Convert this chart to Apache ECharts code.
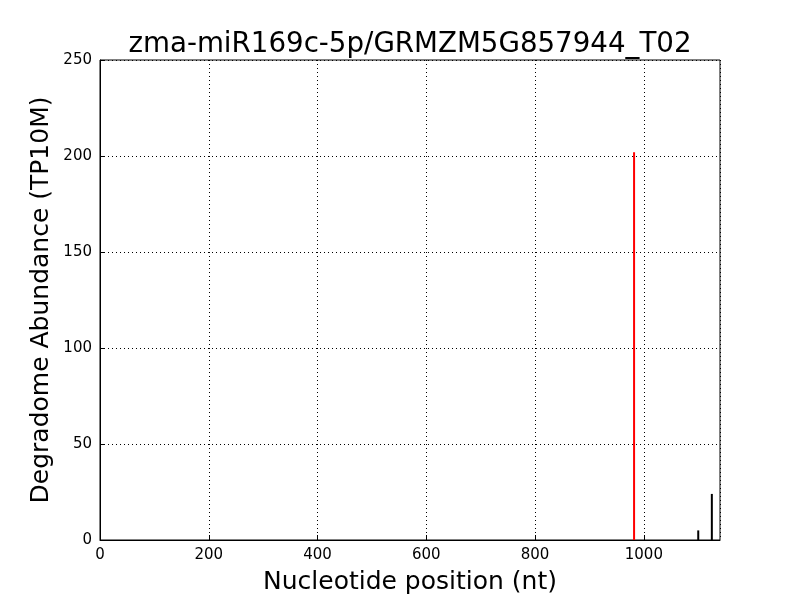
<!DOCTYPE html>
<html><head><meta charset="utf-8">
<script src="https://cdn.jsdelivr.net/npm/echarts@6/dist/echarts.min.js"></script>
<style>html,body{margin:0;padding:0;background:#fff}#c{width:800px;height:600px}</style>
</head><body><div id="c"></div>
<script>
const title = "zma-miR169c-5p/GRMZM5G857944_T02";
const highlightPos = [982];
const highlightVal = [202];
const otherPos = [1100, 1125];
const otherVal = [5, 24];
const xTicksMax = 1140;

const chart = echarts.init(document.getElementById('c'), null, {renderer:'canvas'});
const series = [];
function stem(x, y, color){
  series.push({type:'line', data:[[x,0],[x,y]], symbol:'none', lineStyle:{color:color, width:2}, silent:true, z:3});
}
highlightPos.forEach((x,i)=>stem(x, highlightVal[i], '#ff0000'));
otherPos.forEach((x,i)=>stem(x, otherVal[i], '#000000'));
const F = 'DejaVu Sans';
chart.setOption({
  animation:false,
  title:{text:title, left:405, textAlign:'center', top:26, textStyle:{fontFamily:F, fontSize:27.7, fontWeight:'normal', color:'#000'}},
  grid:{left:100, right:80, top:60, bottom:60, show:true, borderColor:'#000', borderWidth:1, backgroundColor:'transparent', containLabel:false, outerBoundsMode:'none'},
  xAxis:{type:'value', min:0, max:xTicksMax, interval:200,
    name:'Nucleotide position (nt)', nameLocation:'middle', nameGap:30, nameMoveOverlap:false,
    nameTextStyle:{fontFamily:F, fontSize:25, color:'#000'},
    axisLine:{show:true, lineStyle:{color:'#000'}},
    axisTick:{show:true, inside:true, length:5, lineStyle:{color:'#000'}},
    axisLabel:{fontFamily:F, fontSize:15, color:'#000', margin:8, showMaxLabel:false, formatter:v=>String(v)},
    splitLine:{show:true, lineStyle:{color:'#000', type:[1,3], width:1}}},
  yAxis:{type:'value', min:0, max:250, interval:50,
    name:'Degradome Abundance (TP10M)', nameLocation:'middle', nameGap:46, nameMoveOverlap:false,
    nameTextStyle:{fontFamily:F, fontSize:25, color:'#000'},
    axisLine:{show:true, lineStyle:{color:'#000'}},
    axisTick:{show:true, inside:true, length:5, lineStyle:{color:'#000'}},
    axisLabel:{fontFamily:F, fontSize:15, color:'#000', margin:8, formatter:v=>String(v)},
    splitLine:{show:true, lineStyle:{color:'#000', type:[1,3], width:1}}},
  series:series
});
</script></body></html>
